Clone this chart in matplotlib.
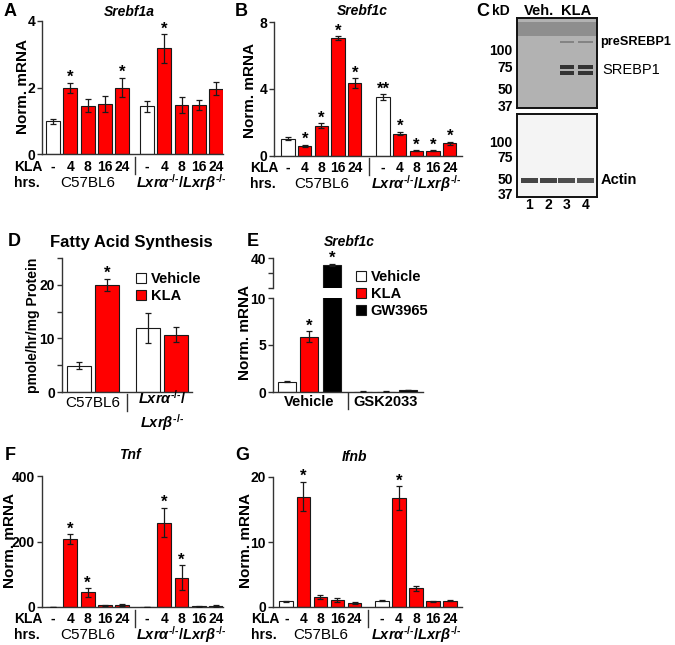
import numpy as np
import matplotlib
matplotlib.use('Agg')
import matplotlib.pyplot as plt
from matplotlib.transforms import blended_transform_factory
from matplotlib.ticker import NullLocator

plt.rcParams['font.family'] = ['Liberation Sans', 'DejaVu Sans']
plt.rcParams['font.weight'] = 'bold'
plt.rcParams['mathtext.fontset'] = 'custom'
plt.rcParams['mathtext.it'] = 'Liberation Sans:italic:bold'
plt.rcParams['mathtext.rm'] = 'Liberation Sans:bold'
plt.rcParams['mathtext.bf'] = 'Liberation Sans:bold'

# ---- data ----
kla_hrs = ['-', '4', '8', '16', '24']
wt_name = 'C57BL6'
ko_name = r'$Lxr\alpha^{\text{-/-}}/Lxr\beta^{\text{-/-}}$'

# A  Srebf1a
srebf1a_wt = [0.98, 1.98, 1.45, 1.50, 2.00]
srebf1a_wt_err = [0.07, 0.16, 0.20, 0.24, 0.29]
srebf1a_ko = [1.43, 3.18, 1.47, 1.47, 1.96]
srebf1a_ko_err = [0.17, 0.43, 0.24, 0.14, 0.20]
srebf1a_stars = ['', '*', '', '', '*', '', '*', '', '', '']

# B  Srebf1c
srebf1c_wt = [1.04, 0.60, 1.80, 7.04, 4.34]
srebf1c_wt_err = [0.08, 0.06, 0.15, 0.10, 0.30]
srebf1c_ko = [3.50, 1.34, 0.32, 0.32, 0.76]
srebf1c_ko_err = [0.18, 0.10, 0.04, 0.04, 0.10]
srebf1c_stars = ['', '*', '*', '*', '*', '**', '*', '*', '*', '*']

# F  Tnf
tnf_wt = [1, 207, 45, 5, 5]
tnf_wt_err = [0.5, 15, 13, 2, 3]
tnf_ko = [1, 258, 90, 2, 3]
tnf_ko_err = [0.5, 45, 38, 1, 2]
tnf_stars = ['', '*', '*', '', '', '', '*', '*', '', '']

# G  Ifnb
ifnb_wt = [0.85, 17.0, 1.5, 1.05, 0.6]
ifnb_wt_err = [0.1, 2.3, 0.3, 0.28, 0.12]
ifnb_ko = [1.0, 16.75, 2.85, 0.85, 1.0]
ifnb_ko_err = [0.15, 1.8, 0.4, 0.1, 0.15]
ifnb_stars = ['', '*', '', '', '', '', '*', '', '', '']

# D  fatty acid synthesis
fas_groups = ['C57BL6', r'$Lxr\alpha^{\text{-/-}}/$' + '\n' + r'$Lxr\beta^{\text{-/-}}$']
fas_vehicle = [4.9, 11.9]
fas_vehicle_err = [0.7, 2.8]
fas_kla = [20.0, 10.7]
fas_kla_err = [1.1, 1.4]
fas_stars = ['*', '']

# E  Srebf1c with GSK2033
e_treatments = ['Vehicle', 'KLA', 'GW3965']
e_pretreat = ['Vehicle', 'GSK2033']
e_vehicle = [1.08, 5.9, 35.5]
e_vehicle_err = [0.05, 0.55, 0.8]
e_gsk = [0.05, 0.05, 0.2]
e_gsk_err = [0.01, 0.01, 0.03]
e_stars = ['', '*', '*', '', '', '']

# C  western blot
lanes = [1, 2, 3, 4]
lane_labels = ['1', '2', '3', '4']
mw_markers = [100, 75, 50, 37]
srebp1_kd = [74, 66]
srebp1_level = [0.0, 0.0, 1.0, 1.0]
presrebp1_kd = 115
presrebp1_level = [0.0, 0.0, 0.45, 0.45]
actin_kd = 48
actin_level = [1.0, 1.0, 0.95, 0.9]

# ---- layout helpers (pixel coordinates, y from top) ----
W, H = 675, 645
RED = '#ff0000'
EDGE = '#1a1a1a'
AXC = '#333333'

fig = plt.figure(figsize=(W / 100, H / 100), dpi=100)


def px_ax(x0, y0, x1, y1):
    return fig.add_axes([x0 / W, 1 - y1 / H, (x1 - x0) / W, (y1 - y0) / H])


def ftext(x, y, s, **kw):
    kw.setdefault('va', 'center')
    fig.text(x / W, 1 - y / H, s, **kw)


def fy(y):
    return 1 - y / H


def style_axis(ax):
    ax.spines['top'].set_visible(False)
    ax.spines['right'].set_visible(False)
    for side in ['left', 'bottom']:
        ax.spines[side].set_linewidth(1.0)
        ax.spines[side].set_color(AXC)
    ax.tick_params(axis='y', length=3.5, width=1, color=AXC, labelsize=10, pad=1.5)
    ax.set_xticks([])
    ax.patch.set_alpha(0)


def draw_bars(ax, pos, vals, errs, colors, stars, width=0.8):
    ax.bar(pos, vals, width, color=colors, edgecolor=EDGE, linewidth=0.8, zorder=2)
    ax.errorbar(pos, vals, yerr=errs, fmt='none', ecolor=EDGE, elinewidth=0.9,
                capsize=2, capthick=0.9, zorder=3)
    lo, hi = ax.get_ylim()
    for p, v, e, s in zip(pos, vals, errs, stars):
        if s and lo <= v + e <= hi:
            ax.annotate(s, (p, v + e), xytext=(0, 0.5), textcoords='offset points',
                        ha='center', va='baseline', fontsize=12, fontweight='bold',
                        annotation_clip=False)


def time_course(ax, wt, wt_err, ko, ko_err, stars, ko_start, xlim, ylim, yticks,
                row_y, grp_y, sep_y, ylab_xy):
    pos = np.r_[np.arange(5), ko_start + np.arange(5)]
    colors = ['white'] + [RED] * 4 + ['white'] + [RED] * 4
    ax.set_xlim(xlim)
    ax.set_ylim(ylim)
    ax.set_yticks(yticks)
    style_axis(ax)
    draw_bars(ax, pos, wt + ko, wt_err + ko_err, colors, stars)
    ftext(ylab_xy[0], ylab_xy[1], 'Norm. mRNA', fontsize=11, rotation=90, ha='center')
    tr = blended_transform_factory(ax.transData, fig.transFigure)
    for p, lab in zip(pos, kla_hrs * 2):
        ax.text(p, fy(row_y), lab, transform=tr, ha='center', va='center', fontsize=10)
    ax.text(2, fy(grp_y), wt_name, transform=tr, ha='center', va='center',
            fontsize=11, fontweight='normal')
    ax.text(ko_start + 2, fy(grp_y), ko_name, transform=tr, ha='center', va='center',
            fontsize=10.5)
    sep = (4 + ko_start) / 2
    ax.plot([sep, sep], [fy(sep_y[0]), fy(sep_y[1])], transform=tr, color=AXC,
            lw=1, clip_on=False)


# ---- A ----
axA = px_ax(42, 21, 223, 154)
time_course(axA, srebf1a_wt, srebf1a_wt_err, srebf1a_ko, srebf1a_ko_err, srebf1a_stars,
            5.43, (-0.64, 9.83), (0, 4), [0, 2, 4], 167, 183, (157, 174), (23, 87))
ftext(4, 12, 'A', fontsize=13)
ftext(129, 12, 'Srebf1a', fontsize=10, style='italic', ha='center')
ftext(14, 167, 'KLA', fontsize=10)
ftext(14, 183, 'hrs.', fontsize=10)

# ---- B ----
axB = px_ax(274, 22, 462, 156)
time_course(axB, srebf1c_wt, srebf1c_wt_err, srebf1c_ko, srebf1c_ko_err, srebf1c_stars,
            5.69, (-0.84, 10.42), (0, 8), [0, 4, 8], 168, 184, (158, 175), (250, 90))
ftext(235, 11, 'B', fontsize=13)
ftext(362, 11, 'Srebf1c', fontsize=10, style='italic', ha='center')
ftext(250, 168, 'KLA', fontsize=10)
ftext(250, 184, 'hrs.', fontsize=10)

# ---- F ----
axF = px_ax(42, 476, 223, 607)
time_course(axF, tnf_wt, tnf_wt_err, tnf_ko, tnf_ko_err, tnf_stars,
            5.43, (-0.64, 9.83), (0, 400), [0, 200, 400], 619, 635, (610, 627), (10, 540))
ftext(5, 455, 'F', fontsize=13)
ftext(130, 455, 'Tnf', fontsize=10, style='italic', ha='center')
ftext(14, 619, 'KLA', fontsize=10)
ftext(14, 635, 'hrs.', fontsize=10)

# ---- G ----
axG = px_ax(273, 477, 462, 607)
time_course(axG, ifnb_wt, ifnb_wt_err, ifnb_ko, ifnb_ko_err, ifnb_stars,
            5.6, (-0.78, 10.3), (0, 20), [0, 10, 20], 619, 635, (610, 627), (246, 540))
ftext(235, 455, 'G', fontsize=13)
ftext(354, 457, 'Ifnb', fontsize=10, style='italic', ha='center')
ftext(251, 619, 'KLA', fontsize=10)
ftext(251, 635, 'hrs.', fontsize=10)

# ---- D ----
axD = px_ax(62, 258, 192, 392)
d_pos_veh = np.array([0, 2.38])
d_pos_kla = d_pos_veh + 0.96
axD.set_xlim(-0.59, 3.9)
axD.set_ylim(0, 25)
axD.set_yticks([0, 5, 10, 15, 20, 25], ['0', '', '10', '', '20', ''])
style_axis(axD)
draw_bars(axD, d_pos_veh, fas_vehicle, fas_vehicle_err, ['white'] * 2, ['', ''], width=0.83)
draw_bars(axD, d_pos_kla, fas_kla, fas_kla_err, [RED] * 2, fas_stars, width=0.83)
ftext(33, 325, 'pmole/hr/mg Protein', fontsize=10, rotation=90, ha='center')
trD = blended_transform_factory(axD.transData, fig.transFigure)
d_centers = (d_pos_veh + d_pos_kla) / 2
axD.text(d_centers[0], fy(403), fas_groups[0], transform=trD, ha='center', va='center',
         fontsize=11, fontweight='normal')
axD.text(d_centers[1], fy(411), fas_groups[1], transform=trD, ha='center', va='center',
         fontsize=10.5, linespacing=1.3)
d_sep = (d_pos_kla[0] + d_pos_veh[1]) / 2
axD.plot([d_sep, d_sep], [fy(394), fy(411)], transform=trD, color=AXC, lw=1, clip_on=False)
hD = [plt.Rectangle((0, 0), 1, 1, facecolor=c, edgecolor=EDGE, lw=0.8) for c in ['white', RED]]
axD.legend(hD, ['Vehicle', 'KLA'], loc='upper left', bbox_to_anchor=(136 / W, fy(272)),
           bbox_transform=fig.transFigure, frameon=False, handlelength=0.7, handleheight=0.7,
           handletextpad=0.3, labelspacing=0.2, borderpad=0, borderaxespad=0,
           prop={'weight': 'bold', 'size': 10.5})
ftext(8, 242, 'D', fontsize=13)
ftext(131, 242, 'Fatty Acid Synthesis', fontsize=12, ha='center')

# ---- E (broken axis) ----
e_pos = np.r_[np.arange(3), 3.38 + np.arange(3)]
e_colors = ['white', RED, 'black'] * 2
e_vals = e_vehicle + e_gsk
e_errs = e_vehicle_err + e_gsk_err
axE = px_ax(273, 298, 423, 392)
axEh = px_ax(273, 258, 423, 288)
for ax, lim, ticks, labels in [(axE, (0, 10), [0, 5, 10], ['0', '5', '10']),
                               (axEh, (20, 40), [20, 30, 40], ['', '', '40'])]:
    ax.set_xlim(-0.62, 6.04)
    ax.set_ylim(lim)
    ax.set_yticks(ticks, labels)
    style_axis(ax)
    draw_bars(ax, e_pos, e_vals, e_errs, e_colors, e_stars)
axEh.spines['bottom'].set_visible(False)
trE = blended_transform_factory(axE.transData, fig.transFigure)
axE.text(1, fy(402), e_pretreat[0], transform=trE, ha='center', va='center', fontsize=10.5)
axE.text(4.38, fy(402), e_pretreat[1], transform=trE, ha='center', va='center', fontsize=10.5)
axE.plot([2.69, 2.69], [fy(393), fy(409)], transform=trE, color=AXC, lw=1, clip_on=False)
hE = [plt.Rectangle((0, 0), 1, 1, facecolor=c, edgecolor=EDGE, lw=0.8)
      for c in ['white', RED, 'black']]
axE.legend(hE, e_treatments, loc='upper left', bbox_to_anchor=(356 / W, fy(270)),
           bbox_transform=fig.transFigure, frameon=False, handlelength=0.7, handleheight=0.7,
           handletextpad=0.3, labelspacing=0.2, borderpad=0, borderaxespad=0,
           prop={'weight': 'bold', 'size': 10.5})
ftext(247, 242, 'E', fontsize=13)
ftext(349, 242, 'Srebf1c', fontsize=10, style='italic', ha='center')
ftext(245, 332, 'Norm. mRNA', fontsize=11, rotation=90, ha='center')

# ---- C (blot) ----
axU = px_ax(517, 18, 597, 108)
axL = px_ax(517, 114, 597, 197)
for ax, lim in [(axU, (35.7, 176)), (axL, (34.8, 171))]:
    ax.set_yscale('log')
    ax.set_ylim(lim)
    ax.set_xlim(0.35, 4.6)
    ax.yaxis.set_minor_locator(NullLocator())
    ax.set_yticks(mw_markers, [str(m) for m in mw_markers])
    ax.tick_params(axis='y', length=0, labelsize=10, pad=3)
    ax.tick_params(axis='x', length=0)
    ax.set_xticks([])
    for s in ax.spines.values():
        s.set_linewidth(1.4)
        s.set_color('#111111')
axU.set_facecolor('#b2b2b2')
axU.axhspan(128, 165, color='#858585', alpha=0.8, lw=0)
for kd in srebp1_kd:
    axU.bar(lanes, [kd * 0.075] * 4, width=0.78, bottom=[kd * 0.965] * 4,
            color=[(0.2, 0.2, 0.2, a) for a in srebp1_level], lw=0)
axU.bar(lanes, [presrebp1_kd * 0.05] * 4, width=0.78, bottom=[presrebp1_kd * 0.975] * 4,
        color=[(0.3, 0.3, 0.3, a) for a in presrebp1_level], lw=0)
axL.set_facecolor('#f4f4f4')
axL.bar(lanes, [actin_kd * 0.095] * 4, width=0.9, bottom=[actin_kd * 0.955] * 4,
        color=[(0.27, 0.27, 0.27, a) for a in actin_level], lw=0)
axL.set_xticks(lanes, lane_labels)
axL.tick_params(axis='x', labelsize=10, pad=1)
trU = blended_transform_factory(axU.transData, fig.transFigure)
axU.text(1.5, fy(11), 'Veh.', transform=trU, ha='center', va='center', fontsize=10.5)
axU.text(3.5, fy(11), 'KLA', transform=trU, ha='center', va='center', fontsize=10.5)
trU2 = blended_transform_factory(fig.transFigure, axU.transData)
axU.text(600 / W, presrebp1_kd, 'preSREBP1', transform=trU2, va='center', fontsize=9.2)
axU.text(602 / W, 70, 'SREBP1', transform=trU2, va='center', fontsize=10.5,
         fontweight='normal')
trL2 = blended_transform_factory(fig.transFigure, axL.transData)
axL.text(601 / W, actin_kd, 'Actin', transform=trL2, va='center', fontsize=10.5)
ftext(476, 11, 'C', fontsize=13)
ftext(492, 11, 'kD', fontsize=10)

fig.savefig('out.png', dpi=100)
